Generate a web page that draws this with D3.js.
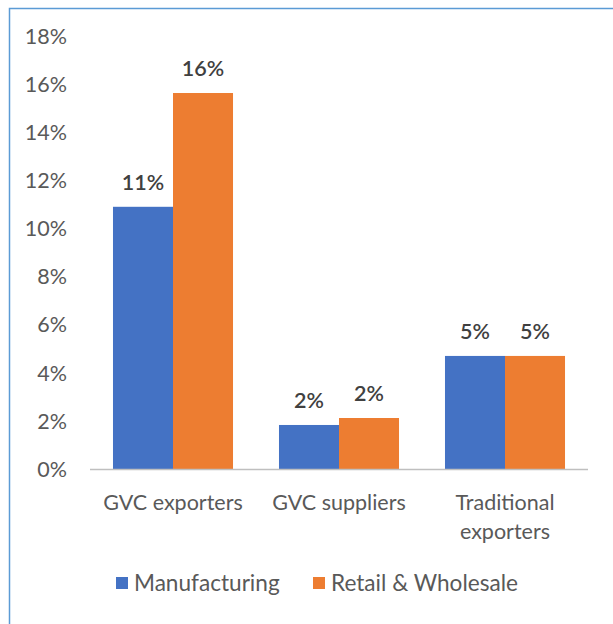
<!DOCTYPE html>
<html><head><meta charset="utf-8">
<script src="https://cdn.jsdelivr.net/npm/d3@7"></script>
<style>body{margin:0;background:#fff}svg{display:block}text{font-family:Lato,"Open Sans",sans-serif}</style>
</head><body><svg id="c" width="613" height="624"></svg>
<script>
const categories = [["GVC exporters"], ["GVC suppliers"], ["Traditional", "exporters"]];
const seriesNames = ["Manufacturing", "Retail & Wholesale"];
const manufacturing = [10.9, 1.83, 4.7];
const retailWholesale = [15.63, 2.12, 4.7];
const dataLabels = [["11%", "2%", "5%"], ["16%", "2%", "5%"]];
const yTicks = [0, 2, 4, 6, 8, 10, 12, 14, 16, 18];
const colors = ["#4472C4", "#ED7D31"];

const svg = d3.select("#c");
svg.append("rect").attr("x", 9.5).attr("y", 8.5).attr("width", 700).attr("height", 700)
  .attr("fill", "none").attr("stroke", "#5B9BD5").attr("stroke-width", 1.5);

const x0 = d3.scaleBand().domain(d3.range(categories.length)).range([90, 588]).paddingInner(0).paddingOuter(0);
const x1 = d3.scaleBand().domain([0, 1]).range([0, x0.bandwidth()]).paddingInner(0).paddingOuter(0.383);
const y = d3.scaleLinear().domain([0, 18]).range([469, 36]);

svg.append("g").selectAll("text").data(yTicks).join("text")
  .attr("x", 67).attr("y", d => y(d)).attr("dy", "0.36em").attr("text-anchor", "end")
  .attr("fill", "#595959").attr("font-size", 21.5).text(d => d + "%");

const series = [manufacturing, retailWholesale];
series.forEach((vals, s) => {
  svg.append("g").selectAll("rect").data(vals).join("rect")
    .attr("x", (d, i) => x0(i) + x1(s)).attr("width", x1.bandwidth())
    .attr("y", d => y(d)).attr("height", d => y(0) - y(d)).attr("fill", colors[s]);
  svg.append("g").selectAll("text").data(vals).join("text")
    .attr("x", (d, i) => x0(i) + x1(s) + x1.bandwidth() / 2).attr("y", d => y(d) - 17)
    .attr("text-anchor", "middle").attr("fill", "#404040").attr("font-size", 21.5).attr("font-weight", 600)
    .text((d, i) => dataLabels[s][i]);
});

svg.append("line").attr("x1", 90).attr("x2", 588).attr("y1", y(0) + 0.5).attr("y2", y(0) + 0.5)
  .attr("stroke", "#BFBFBF").attr("stroke-width", 1.5);

categories.forEach((lines, i) => {
  const t = svg.append("text").attr("x", x0(i) + x0.bandwidth() / 2).attr("y", 510)
    .attr("text-anchor", "middle").attr("fill", "#595959").attr("font-size", 21.5);
  lines.forEach((l, k) => t.append("tspan").attr("x", x0(i) + x0.bandwidth() / 2).attr("dy", k ? 29 : 0).text(l));
});

const legend = [{x: 116, tx: 134}, {x: 313, tx: 331}];
seriesNames.forEach((n, s) => {
  svg.append("rect").attr("x", legend[s].x).attr("y", 577).attr("width", 12).attr("height", 12).attr("fill", colors[s]);
  svg.append("text").attr("x", legend[s].tx).attr("y", 583).attr("dy", "0.36em").attr("fill", "#595959")
    .attr("font-size", 22.6).text(n);
});
</script></body></html>
